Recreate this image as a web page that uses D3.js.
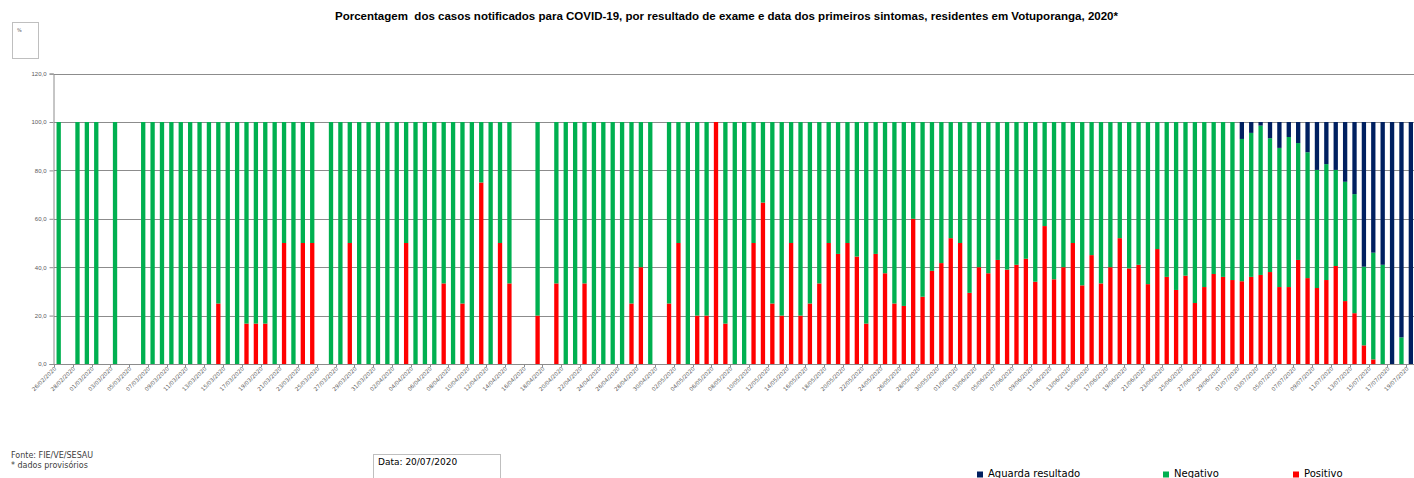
<!DOCTYPE html>
<html>
  <head>
    <script src="https://d3js.org/d3.v7.min.js"></script>
  </head>
  <style type="text/css">
    body { margin: 0; background: #fff; }
    svg { display: block; font-family: "DejaVu Sans", sans-serif; }
    .grid line { stroke: #8c8c8c; stroke-width: 1; }
    .yaxis text { fill: #595959; font-size: 6px; }
    .yaxis line, .yaxis path { stroke: #8c8c8c; }
    .xlab { fill: #595959; font-size: 5.5px; }
  </style>
  <body>
    <div id="chart"></div>

  <script type="text/javascript">

    // first and last day of symptoms (one category per day)
    var firstDay = "2020-02-26";
    var lastDay = "2020-07-19";

    // percent positivo per day (null = no cases that day)
    var positivo = [
      0, null, 0, 0, 0, null, 0, null, null, 0,
      0, 0, 0, 0, 0, 0, 0, 25, 0, 0,
      16.7, 16.7, 16.7, 0, 50, 0, 50, 50, null, 0,
      0, 50, 0, 0, 0, 0, 0, 50, 0, 0,
      0, 33.3, 0, 25, 0, 75, 0, 50, 33.3, null,
      null, 20, null, 33.3, 0, 0, 33.3, 0, 0, 0,
      0, 25, 40, 0, null, 25, 50, 0, 20, 20,
      100, 16.7, 0, 0, 50, 66.7, 25, 20, 50, 20,
      25, 33.3, 50, 45.5, 50, 44.4, 16.7, 45.5, 37.5, 25,
      24, 60, 27.8, 38.5, 41.7, 52, 50, 29.4, 40, 37.5,
      43, 39, 41, 43.5, 34, 57, 35, 40, 50, 32.5,
      45, 33.3, 40, 52, 39.5, 41, 33, 47.5, 36, 30.6,
      36.5, 25.2, 31.8, 37.2, 36, 34.7, 34.2, 36, 36.8, 38,
      31.8, 31.8, 43, 35.5, 31.4, 34.7, 40.5, 26, 21, 7.7,
      1.9, 0, 0, 0, 0
    ];

    // percent negativo per day
    var negativo = [
      100, null, 100, 100, 100, null, 100, null, null, 100,
      100, 100, 100, 100, 100, 100, 100, 75, 100, 100,
      83.3, 83.3, 83.3, 100, 50, 100, 50, 50, null, 100,
      100, 50, 100, 100, 100, 100, 100, 50, 100, 100,
      100, 66.7, 100, 75, 100, 25, 100, 50, 66.7, null,
      null, 80, null, 66.7, 100, 100, 66.7, 100, 100, 100,
      100, 75, 60, 100, null, 75, 50, 100, 80, 80,
      0, 83.3, 100, 100, 50, 33.3, 75, 80, 50, 80,
      75, 66.7, 50, 54.5, 50, 55.6, 83.3, 54.5, 62.5, 75,
      76, 40, 72.2, 61.5, 58.3, 48, 50, 70.6, 60, 62.5,
      57, 61, 59, 56.5, 66, 43, 65, 60, 50, 67.5,
      55, 66.7, 60, 48, 60.5, 59, 67, 52.5, 64, 69.4,
      63.5, 74.8, 68.2, 62.8, 64, 65.3, 58.8, 59.5, 61.7, 55.3,
      57.5, 62, 48.3, 52, 48.8, 47.9, 39.7, 49.3, 49.2, 32.5,
      44.1, 41, 0, 11, 0
    ];

    // percent aguarda resultado, only from 01/07 on (earlier days are 0)
    var aguardaJulho = [
      7, 4.5, 1.5, 6.7, 10.7, 6.2, 8.7, 12.5, 19.8, 17.4,
      19.8, 24.7, 29.8, 59.8, 54, 59, 100, 89, 100
    ];

    var yTicks = [0, 20, 40, 60, 80, 100, 120];

    var keys = ["positivo", "negativo", "aguarda"];
    var colors = { positivo: "#ff0000", negativo: "#00b050", aguarda: "#002060" };
    var legendItems = [
      { key: "aguarda", label: "Aguarda resultado", x: 977 },
      { key: "negativo", label: "Negativo", x: 1163 },
      { key: "positivo", label: "Positivo", x: 1293 }
    ];

    var width = 1414;
    var height = 478;
    var parse = d3.timeParse("%Y-%m-%d");
    var fmt = d3.timeFormat("%d/%m/%Y");

    var days = d3.timeDay.range(parse(firstDay), d3.timeDay.offset(parse(lastDay), 1));
    var julyStart = days.length - aguardaJulho.length;

    var table = days.map(function(d, i) {
      return {
        day: fmt(d),
        idx: i,
        empty: positivo[i] === null,
        positivo: positivo[i] || 0,
        negativo: negativo[i] || 0,
        aguarda: i >= julyStart ? aguardaJulho[i - julyStart] : 0
      };
    });

    var svg = d3.select("#chart")
      .append("svg")
        .attr("width", width)
        .attr("height", height);

    // plot area
    var left = 54, bottom = 364;
    var step = 9.39;

    var x = d3.scaleBand()
        .domain(table.map(function(d) { return d.day; }))
        .range([left, left + step * days.length])
        .paddingInner(0.54)
        .paddingOuter(0.27);

    var y = d3.scaleLinear()
        .domain([0, 120])
        .range([bottom, 73.6]);

    // title
    svg.append("text")
        .attr("x", 335)
        .attr("y", 20)
        .attr("textLength", 783)
        .attr("lengthAdjust", "spacingAndGlyphs")
        .style("white-space", "pre")
        .style("font-family", "'Liberation Sans', Arial, sans-serif")
        .style("font-weight", "bold")
        .style("font-size", "11px")
        .style("fill", "#000")
        .text("Porcentagem  dos casos notificados para COVID-19, por resultado de exame e data dos primeiros sintomas, residentes em Votuporanga, 2020*");

    // little "%" box
    svg.append("rect")
        .attr("x", 12.5).attr("y", 22.5)
        .attr("width", 26).attr("height", 36)
        .attr("fill", "none")
        .attr("stroke", "#bfbfbf");
    svg.append("text")
        .attr("x", 17).attr("y", 32)
        .style("font-size", "5px")
        .style("fill", "#595959")
        .text("%");

    // gridlines
    svg.append("g")
        .attr("class", "grid")
      .selectAll("line")
        .data(yTicks.slice(1))
        .enter()
        .append("line")
        .attr("x1", left)
        .attr("x2", width)
        .attr("y1", function(d) { return Math.round(y(d)) + 0.5; })
        .attr("y2", function(d) { return Math.round(y(d)) + 0.5; });

    // bars
    var series = d3.stack().keys(keys)(table.filter(function(d) { return !d.empty; }));

    svg.append("g")
      .selectAll("g")
        .data(series)
        .enter()
        .append("g")
        .attr("fill", function(s) { return colors[s.key]; })
      .selectAll("rect")
        .data(function(s) { return s; })
        .enter()
        .append("rect")
        .attr("x", function(d) { return x(d.data.day); })
        .attr("width", x.bandwidth())
        .attr("y", function(d) { return y(d[1]); })
        .attr("height", function(d) { return y(d[0]) - y(d[1]); });

    // y axis
    svg.append("g")
        .attr("class", "yaxis")
        .attr("transform", "translate(" + (left - 0.5) + ",0)")
        .call(d3.axisLeft(y)
          .tickValues(yTicks)
          .tickSize(4)
          .tickPadding(3)
          .tickFormat(function(d) { return d3.format(".1f")(d).replace(".", ","); }));

    // x axis line + ticks every 2 days
    svg.append("line")
        .attr("x1", left).attr("x2", width)
        .attr("y1", bottom + 0.5).attr("y2", bottom + 0.5)
        .attr("stroke", "#8c8c8c");

    var labelled = table.filter(function(d) { return d.idx % 2 === 0; });

    svg.append("g")
      .selectAll("line")
        .data(labelled)
        .enter()
        .append("line")
        .attr("x1", function(d) { return Math.round(x(d.day) - x.step() * 0.27) + 0.5; })
        .attr("x2", function(d) { return Math.round(x(d.day) - x.step() * 0.27) + 0.5; })
        .attr("y1", bottom)
        .attr("y2", bottom + 3)
        .attr("stroke", "#8c8c8c");

    svg.append("g")
      .selectAll("text")
        .data(labelled)
        .enter()
        .append("text")
        .attr("class", "xlab")
        .attr("text-anchor", "end")
        .attr("transform", function(d) {
          return "translate(" + (x(d.day) + x.bandwidth() / 2 - 2) + "," + (bottom + 5) + ") rotate(-45)";
        })
        .text(function(d) { return d.day; });

    // footer
    svg.append("text")
        .attr("x", 11).attr("y", 458)
        .style("font-size", "8px")
        .style("fill", "#404040")
        .text("Fonte: FIE/VE/SESAU");
    svg.append("text")
        .attr("x", 11).attr("y", 468)
        .style("font-size", "8px")
        .style("fill", "#404040")
        .text("* dados provisórios");

    svg.append("rect")
        .attr("x", 373.5).attr("y", 454.5)
        .attr("width", 127).attr("height", 30)
        .attr("fill", "none")
        .attr("stroke", "#bfbfbf");
    svg.append("text")
        .attr("x", 378).attr("y", 465)
        .style("font-size", "9px")
        .style("fill", "#000")
        .text("Data: 20/07/2020");

    // legend
    var legend = svg.append("g")
      .selectAll("g")
        .data(legendItems)
        .enter()
        .append("g")
        .attr("transform", function(d) { return "translate(" + d.x + ",0)"; });

    legend.append("rect")
        .attr("x", 0).attr("y", 471.5)
        .attr("width", 6).attr("height", 6)
        .attr("fill", function(d) { return colors[d.key]; });

    legend.append("text")
        .attr("x", 11).attr("y", 477)
        .style("font-size", "10px")
        .style("fill", "#000")
        .text(function(d) { return d.label; });

  </script>
  </body>
</html>
